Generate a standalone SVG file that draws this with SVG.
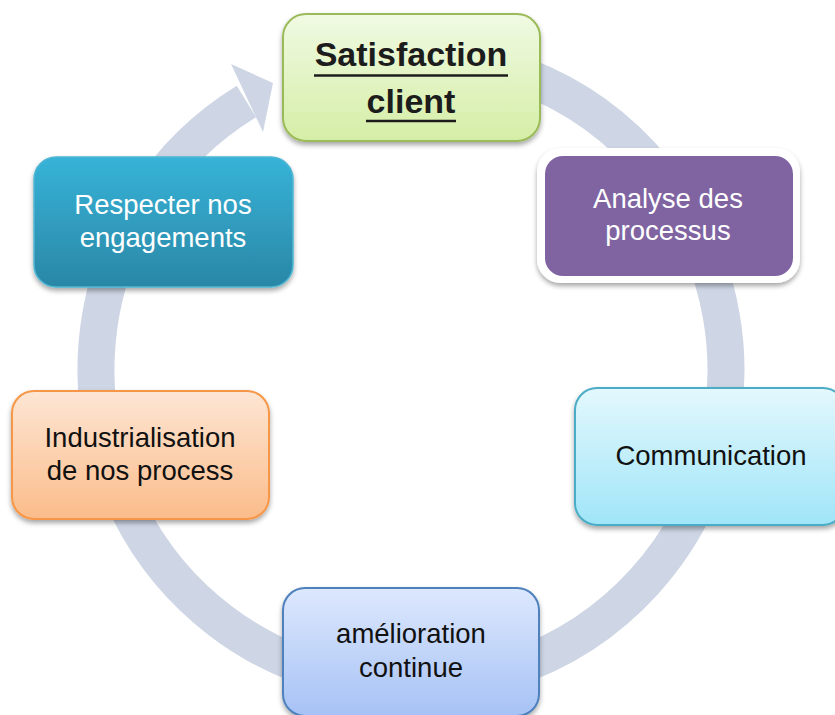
<svg xmlns="http://www.w3.org/2000/svg" width="835" height="715" viewBox="0 0 835 715">
  <defs>
    <linearGradient id="gGreen" x1="0" y1="0" x2="0" y2="1">
      <stop offset="0" stop-color="#f0fae3"/>
      <stop offset="1" stop-color="#d5eea6"/>
    </linearGradient>
    <linearGradient id="gTeal" x1="0" y1="0" x2="0" y2="1">
      <stop offset="0" stop-color="#37b3d8"/>
      <stop offset="1" stop-color="#2a87a6"/>
    </linearGradient>
    <linearGradient id="gOrange" x1="0" y1="0" x2="0" y2="1">
      <stop offset="0" stop-color="#fde6d4"/>
      <stop offset="1" stop-color="#fbbc8a"/>
    </linearGradient>
    <linearGradient id="gCyan" x1="0" y1="0" x2="0" y2="1">
      <stop offset="0" stop-color="#e3f8fd"/>
      <stop offset="1" stop-color="#a0e5f8"/>
    </linearGradient>
    <linearGradient id="gBlue" x1="0" y1="0" x2="0" y2="1">
      <stop offset="0" stop-color="#dde8fd"/>
      <stop offset="1" stop-color="#a6c2f5"/>
    </linearGradient>
    <filter id="shadow" x="-10%" y="-10%" width="120%" height="130%">
      <feDropShadow dx="0" dy="3" stdDeviation="2.5" flood-color="#000" flood-opacity="0.35"/>
    </filter>
  </defs>
  <style>
    .txt { font-family: "Liberation Sans", Arial, sans-serif; font-size: 27.5px; text-anchor: middle; }
    .dark { fill: #111; }
    .light { fill: #fff; }
    .title { font-family: "Liberation Sans", Arial, sans-serif; font-size: 34px; font-weight: bold; fill: #1c1c1c; text-anchor: middle; }
    .ul { stroke: #1c1c1c; stroke-width: 2.5; }
    .box { filter: url(#shadow); }
  </style>

  <g id="connectors">
    <path d="M 383.5 56.2 A 315 315 0 1 1 246.4 101.4" fill="none" stroke="#ced6e5" stroke-width="37"/>
    <polygon points="231,64 273,83 263,132" fill="#ced6e5"/>
  </g>

  <g id="node-satisfaction">
    <rect class="box" x="283" y="14" width="257" height="127" rx="23" fill="url(#gGreen)" stroke="#9bbb59" stroke-width="2"/>
    <text class="title" x="411" y="65.5">Satisfaction</text>
    <line class="ul" x1="314" y1="75.5" x2="508" y2="75.5"/>
    <text class="title" x="411" y="113">client</text>
    <line class="ul" x1="366" y1="121" x2="456" y2="121"/>
  </g>

  <g id="node-analyse">
    <rect class="box" x="537" y="148" width="263" height="135" rx="24" fill="#ffffff"/>
    <rect x="545" y="156" width="248" height="120" rx="18" fill="#8064a2"/>
    <text class="txt light" x="668" y="208">Analyse des</text>
    <text class="txt light" x="668" y="240">processus</text>
  </g>

  <g id="node-respecter">
    <rect class="box" x="34" y="157" width="259" height="130" rx="22" fill="url(#gTeal)" stroke="#4fb6d3" stroke-width="1.5"/>
    <text class="txt light" x="163" y="214">Respecter nos</text>
    <text class="txt light" x="163" y="247">engagements</text>
  </g>

  <g id="node-industrialisation">
    <rect class="box" x="12" y="391" width="257" height="128" rx="22" fill="url(#gOrange)" stroke="#f79646" stroke-width="2"/>
    <text class="txt dark" x="140" y="447">Industrialisation</text>
    <text class="txt dark" x="140" y="480">de nos process</text>
  </g>

  <g id="node-communication">
    <rect class="box" x="575" y="388" width="270" height="137" rx="22" fill="url(#gCyan)" stroke="#4bacc6" stroke-width="2"/>
    <text class="txt dark" x="711" y="465">Communication</text>
  </g>

  <g id="node-amelioration">
    <rect class="box" x="283" y="588" width="256" height="128" rx="22" fill="url(#gBlue)" stroke="#4f81bd" stroke-width="2"/>
    <text class="txt dark" x="411" y="643">amélioration</text>
    <text class="txt dark" x="411" y="677">continue</text>
  </g>
</svg>
